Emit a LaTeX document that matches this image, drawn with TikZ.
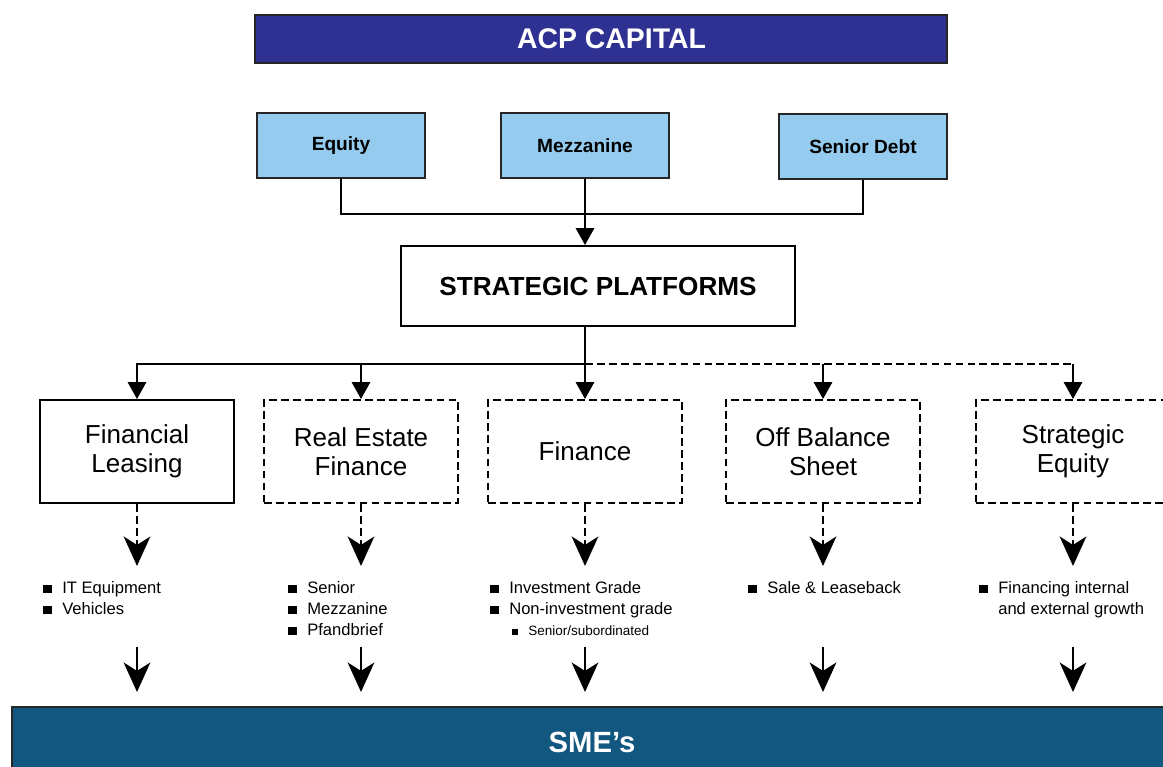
\documentclass[tikz,border=0pt]{standalone}
\usepackage{fontspec}
\setmainfont{Liberation Sans}
\usepackage{xcolor}
\usepackage{tikz}
\usetikzlibrary{arrows.meta}
\definecolor{acp}{RGB}{46,49,146}
\definecolor{fund}{RGB}{149,203,238}
\definecolor{sme}{RGB}{17,87,127}
\tikzset{
  % node options
  banner/.style={draw=black!85,line width=1.2pt,text=white,font=\bfseries\fontsize{20.2}{24}\selectfont},
  fund/.style={draw=black!85,line width=1.2pt,fill=fund,minimum width=4.2cm,minimum height=1.625cm,font=\bfseries\fontsize{13.6}{16}\selectfont},
  platform/.style={draw,line width=1.4pt,minimum width=4.85cm,minimum height=2.575cm,align=center,font=\fontsize{18.5}{20.6}\selectfont},
  maybe/.style={platform,dash pattern=on 5.5pt off 3pt},
  items/.style={anchor=north west,inner sep=0pt,align=left,font=\fontsize{11.8}{14.9}\selectfont},
  % path options
  link/.style={line width=1.4pt},
  feed/.style={link,-{Triangle[width=13pt,length=12pt]}},
  drop/.style={link,-{Stealth[width=19pt,length=21pt,inset=6pt]}},
  dashed drop/.style={drop,dash pattern=on 5.5pt off 3pt},
}
\newcommand{\bul}{\makebox[13.5pt][l]{\rule{6pt}{6pt}}}
\newcommand{\nobul}{\hspace*{13.5pt}}
\newcommand{\subbul}{\hspace*{15.6pt}\makebox[11.4pt][l]{\rule{4.2pt}{4.2pt}}}

\begin{document}
\begin{tikzpicture}[x=0.025cm,y=-0.025cm]
    \useasboundingbox (0,0) rectangle (1163,767);
    % top banner and the three funds
    \node[banner,fill=acp,minimum width=17.3cm,minimum height=1.2cm] (ACP) at (601,39) {\hspace*{15pt}ACP CAPITAL};
    \node[fund] (Equity) at (341,145.5) {Equity};
    \node[fund] (Mezzanine) at (585,145.5) {Mezzanine};
    \node[fund] (Senior Debt) at (863,146.5) {Senior Debt};
    \node[draw,line width=1.4pt,minimum width=9.85cm,minimum height=2cm,font=\bfseries\fontsize{18.6}{22}\selectfont]
      (Platforms) at (598,286) {STRATEGIC PLATFORMS};
    \coordinate (join) at (585,214);
    \draw[link] (Equity.south) |- (join) -| (Senior Debt.south);
    \draw[feed] (Mezzanine.south) -- (Mezzanine.south |- Platforms.north);
    % platforms
    \node[platform] (Leasing) at (137,451.5) {Financial\\Leasing};
    \node[maybe] (Real Estate) at (361,451.5) {Real Estate\\Finance};
    \node[maybe] (Finance) at (585,451.5) {Finance};
    \node[maybe] (Off Balance) at (823,451.5) {Off Balance\\Sheet};
    \node[maybe] (Strategic Equity) at (1073,451.5) {Strategic\\Equity};
    \coordinate (split) at (585,364);
    \draw[feed] (split |- Platforms.south) -- (Finance.north);
    \draw[feed] (split) -| (Leasing.north);
    \draw[feed] (split) -| (Real Estate.north);
    \draw[link,dash pattern=on 5.5pt off 3pt] (split) -- (split -| Strategic Equity.north);
    \draw[feed] (split -| Off Balance.north) -- (Off Balance.north);
    \draw[feed] (split -| Strategic Equity.north) -- (Strategic Equity.north);
    % what each platform offers
    \node[items] (Leasing items) at (43,581) {\bul IT Equipment\\\bul Vehicles};
    \node[items] (Real Estate items) at (288,581) {\bul Senior\\\bul Mezzanine\\\bul Pfandbrief};
    \node[items] (Finance items) at (490,581) {\bul Investment Grade\\\bul Non-investment grade\\
      \subbul{\fontsize{9.6}{12}\selectfont Senior/subordinated}};
    \node[items] (Off Balance items) at (748,581) {\bul Sale \& Leaseback};
    \node[items] (Strategic Equity items) at (979,581) {\bul Financing internal\\\nobul and external growth};
    % bottom banner
    \node[banner,fill=sme,minimum width=29cm,minimum height=1.75cm,font=\bfseries\fontsize{20.8}{24}\selectfont] (SME) at (592,742) {SME’s};
    \coordinate (offer) at (0,566);
    \coordinate (reach) at (0,647);
    \coordinate (hit) at (0,692);
    \foreach \p in {Leasing,Real Estate,Finance,Off Balance,Strategic Equity} {
      \draw[dashed drop] (\p.south) -- (\p.south |- offer);
      \draw[drop] (\p.south |- reach) -- (\p.south |- hit);
    }
  \end{tikzpicture}
\end{document}
